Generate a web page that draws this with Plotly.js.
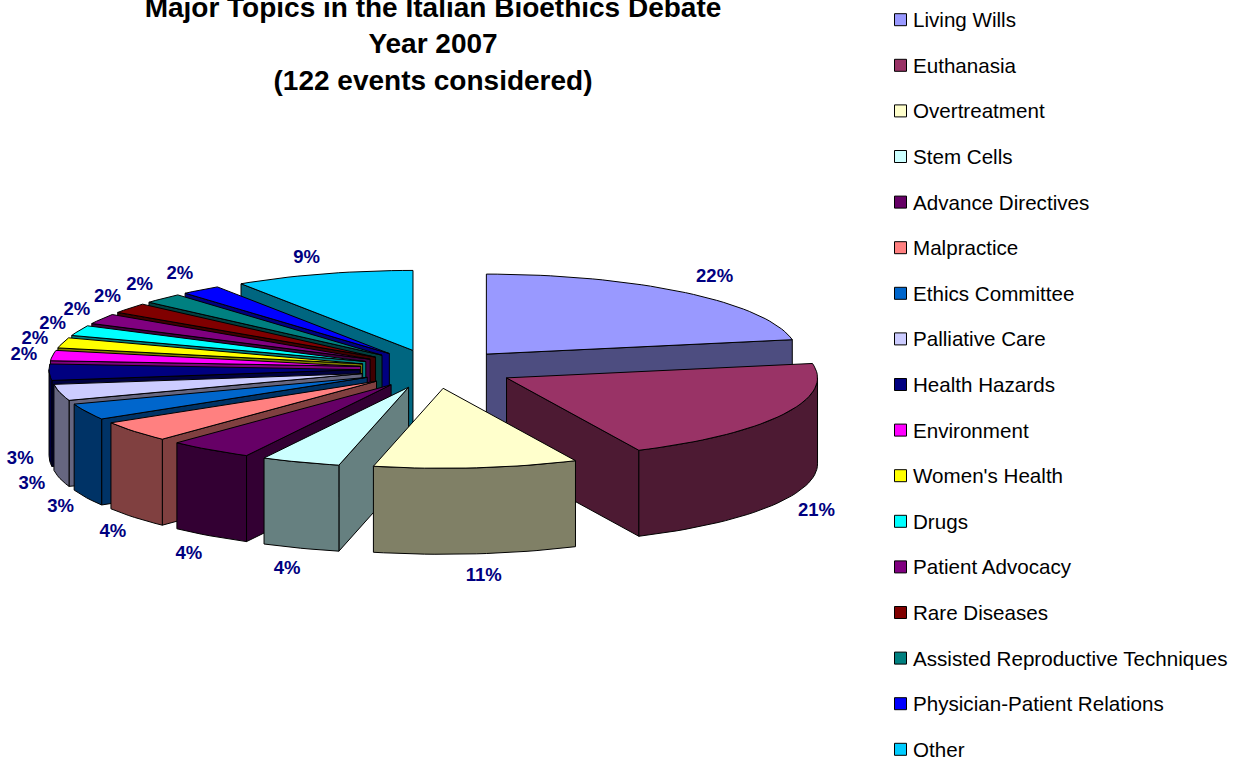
<!DOCTYPE html>
<html>
<head>
<meta charset="utf-8">
<script src="https://cdn.plot.ly/plotly-3.0.1.min.js"></script>
<style>html,body{margin:0;padding:0;background:#fff}#chart{width:1242px;height:760px}</style>
</head>
<body>
<div id="chart"></div>
<script>
const titleLines = ["Major Topics in the Italian Bioethics Debate", "Year 2007", "(122 events considered)"];
const categories = ["Living Wills","Euthanasia","Overtreatment","Stem Cells","Advance Directives","Malpractice","Ethics Committee","Palliative Care","Health Hazards","Environment","Women's Health","Drugs","Patient Advocacy","Rare Diseases","Assisted Reproductive Techniques","Physician-Patient Relations","Other"];
const shares = [22.13,20.9,10.6,4.1,4.4,4.2,3.28,3.28,3.28,2.08,2.08,2.08,2.08,2.08,2.08,2.08,9.33];
const percentLabels = ["22%","21%","11%","4%","4%","4%","3%","3%","3%","2%","2%","2%","2%","2%","2%","2%","9%"];
const topColors = ["#9999FF","#993366","#FFFFCC","#CCFFFF","#660066","#FF8080","#0066CC","#CCCCFF","#000080","#FF00FF","#FFFF00","#00FFFF","#800080","#800000","#008080","#0000FF","#00CCFF"];
const wallColors = ["#4D4D80","#4D1A33","#808066","#668080","#330033","#804040","#003366","#666680","#000040","#800080","#808000","#008080","#400040","#400000","#004040","#000080","#006680"];

// projection of the tilted pie onto the page, in axis units
const cx = 434.5, cy = 369, a = 311, b = 80, wall = 86;
const explodeR = 81, explodeL = 74.5, explodeV = 19.4;
const labelDA = 33, labelDB = 23, labelDX = 4, labelDYBack = 3, labelDYFront = 0;
const labelNudge = {0:[4,-1], 3:[-6,0], 4:[-6,0], 14:[-4,0], 15:[-5,0], 16:[-11,4]};
const rad = d => d * Math.PI / 180;
const total = shares.reduce((s, v) => s + v, 0);

let cum = 0;
const slices = shares.map((v, i) => {
  const t0 = cum / total * 360; cum += v;
  const t1 = cum / total * 360;
  const m = (t0 + t1) / 2;
  const sm = Math.sin(rad(m)), cm = Math.cos(rad(m));
  const tipX = cx + (sm >= 0 ? explodeR : explodeL) * sm;
  const tipY = cy - explodeV * cm;
  return {i, v, t0, t1, m, tipX, tipY};
});
const arcPt = (s, t) => [s.tipX + a * Math.sin(rad(t)), s.tipY - b * Math.cos(rad(t))];
function arc(s, from, to) {
  const n = Math.max(2, Math.ceil((to - from) / 2));
  const p = [];
  for (let k = 0; k <= n; k++) p.push(arcPt(s, from + (to - from) * k / n));
  return p;
}
function poly(pts, fill, name) {
  const xs = pts.map(p => p[0]), ys = pts.map(p => p[1]);
  xs.push(xs[0]); ys.push(ys[0]);
  return {type:"scatter", mode:"lines", x:xs, y:ys, fill:"toself", fillcolor:fill,
    line:{color:"#000000", width:1}, name:name, hoverinfo:"name", showlegend:false};
}
const traces = [];
[...slices].sort((p, q) => Math.cos(rad(q.m)) - Math.cos(rad(p.m))).forEach(s => {
  const wc = wallColors[s.i], name = categories[s.i];
  const radial = t => {
    const e = arcPt(s, t);
    return poly([[s.tipX, s.tipY], e, [e[0], e[1] + wall], [s.tipX, s.tipY + wall]], wc, name);
  };
  if (Math.cos(rad(s.t0 - 90)) < -1e-6) traces.push(radial(s.t0));
  if (Math.cos(rad(s.t1 + 90)) < -1e-6) traces.push(radial(s.t1));
  const from = Math.max(s.t0, 90), to = Math.min(s.t1, 270);
  if (to > from) {
    const top = arc(s, from, to);
    const bottom = top.map(p => [p[0], p[1] + wall]).reverse();
    traces.push(poly(top.concat(bottom), wc, name));
  }
  traces.push(poly([[s.tipX, s.tipY]].concat(arc(s, s.t0, s.t1)), topColors[s.i], name));
});

// percentage labels
const nudge = (s, k) => (labelNudge[s.i] ? labelNudge[s.i][k] : 0);
const isFront = s => Math.cos(rad(s.m)) < 0;
traces.push({type:"scatter", mode:"text", showlegend:false, hoverinfo:"skip",
  x: slices.map(s => s.tipX + labelDX + nudge(s, 0) + (a + labelDA) * Math.sin(rad(s.m))),
  y: slices.map(s => s.tipY + nudge(s, 1) - (b + labelDB) * Math.cos(rad(s.m)) + (isFront(s) ? wall + labelDYFront : labelDYBack)),
  text: percentLabels,
  textposition:"middle center", cliponaxis:false,
  textfont:{family:"Liberation Sans, Arial, sans-serif", size:18.5, color:"#000080", weight:700}});

// key
const keyY = categories.map((c, i) => 19.7 + i * 45.6);
traces.push({type:"scatter", mode:"markers", showlegend:false, hoverinfo:"skip",
  x: categories.map(() => 900.5), y: keyY,
  marker:{symbol:"square", size:12, color:topColors, line:{color:"#000000", width:1}}});
traces.push({type:"scatter", mode:"text", showlegend:false, hoverinfo:"skip",
  x: categories.map(() => 913), y: keyY.map(v => v + 2.3), text: categories,
  textposition:"middle right", cliponaxis:false,
  textfont:{family:"Liberation Sans, Arial, sans-serif", size:20.6, color:"#000000"}});

const titleFont = {family:"Liberation Sans, Arial, sans-serif", size:28, color:"#000000", weight:700};
const layout = {
  width:1242, height:760, margin:{l:0, r:0, t:0, b:0},
  paper_bgcolor:"#ffffff", plot_bgcolor:"#ffffff", showlegend:false,
  title:{text:titleLines.join("<br>"), font:titleFont, x:433/1242, xanchor:"center", xref:"paper", y:1-17/760, yref:"container", yanchor:"middle", automargin:false},
  xaxis:{range:[0,1242], visible:false, fixedrange:true},
  yaxis:{range:[760,0], visible:false, fixedrange:true}
};
Plotly.newPlot("chart", traces, layout, {displayModeBar:false, responsive:false});
</script>
</body>
</html>
